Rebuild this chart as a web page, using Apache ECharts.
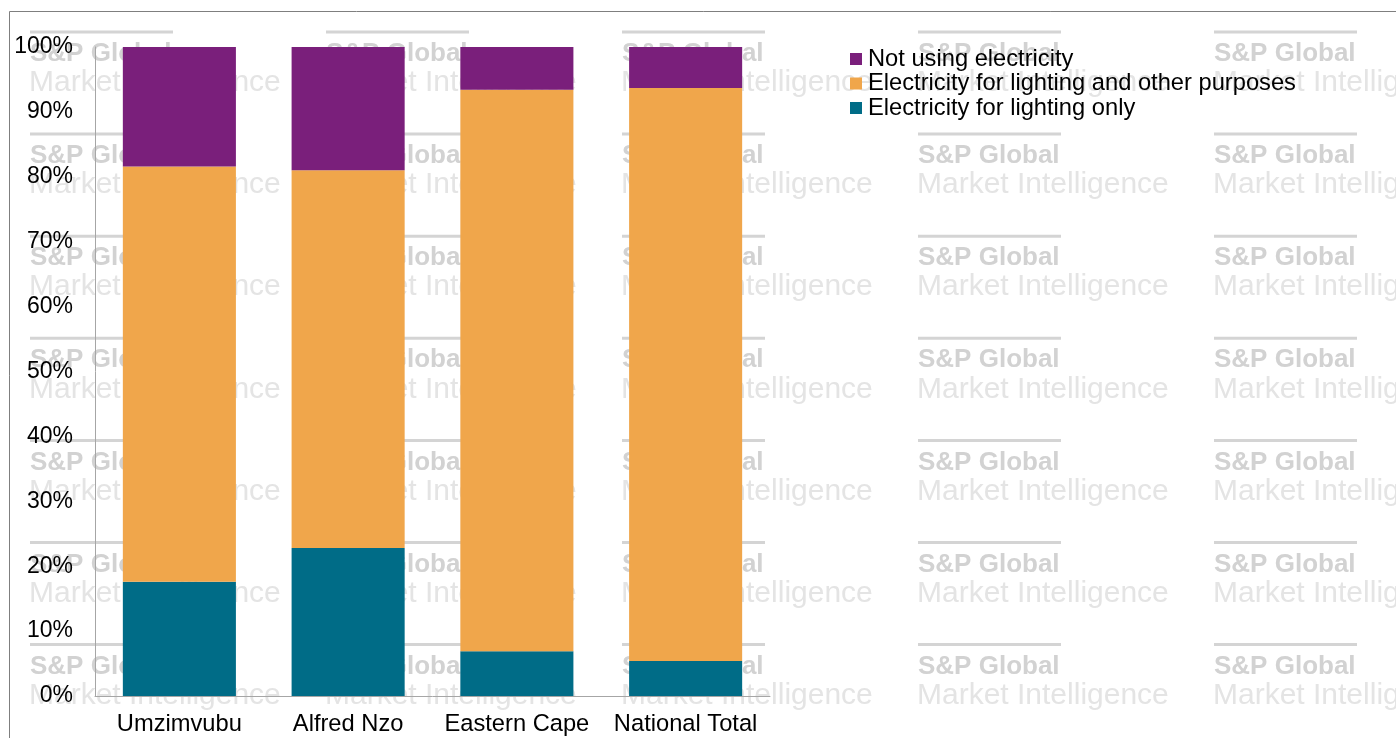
<!DOCTYPE html>
<html>
<head>
<meta charset="utf-8">
<script src="https://cdn.jsdelivr.net/npm/echarts@6/dist/echarts.min.js"></script>
<style>
html,body{margin:0;padding:0;background:#fff;}
#chart{width:1396px;height:738px;}
</style>
</head>
<body>
<div id="chart"></div>
<script>
const categories = ['Umzimvubu', 'Alfred Nzo', 'Eastern Cape', 'National Total'];
const lightingOnly = [17.6, 22.8, 6.9, 5.4];
const lightingAndOther = [64.0, 58.2, 86.5, 88.3];
const notUsing = [18.4, 19.0, 6.6, 6.3];
const seriesNames = ['Electricity for lighting only', 'Electricity for lighting and other purposes', 'Not using electricity'];
const yTicks = [0, 10, 20, 30, 40, 50, 60, 70, 80, 90, 100];

const FONT = '"Liberation Sans", Arial, sans-serif';

// watermark tiles
const wm = [];
for (let i = 0; i < 5; i++) {
  for (let j = 0; j < 7; j++) {
    const x = 30 + 296 * i;
    const y = 32 + 102.1 * j;
    wm.push({ type: 'rect', silent: true, z: 0,
      shape: { x: x, y: y - 1.5, width: 143, height: 3 },
      style: { fill: '#d4d4d4' } });
    wm.push({ type: 'text', silent: true, z: 0, x: x, y: y + 9,
      style: { text: 'S&P Global', font: 'bold 26px ' + FONT, fill: '#d2d2d2', verticalAlign: 'top' } });
    wm.push({ type: 'text', silent: true, z: 0, x: x - 1, y: y + 36,
      style: { text: 'Market Intelligence', font: '30px ' + FONT, fill: '#e4e4e4', verticalAlign: 'top' } });
  }
}
wm.push({ type: 'rect', silent: true, z: 0,
  shape: { x: 9.5, y: 11.5, width: 1500, height: 900 },
  style: { fill: 'none', stroke: '#7f7f7f', lineWidth: 1 } });

const chart = echarts.init(document.getElementById('chart'));
chart.setOption({
  animation: false,
  backgroundColor: '#fff',
  graphic: wm,
  grid: { left: 95, right: 626, top: 47, bottom: 42 },
  legend: {
    orient: 'vertical',
    left: 850, top: 47, padding: 0,
    data: [seriesNames[2], seriesNames[1], seriesNames[0]],
    icon: 'rect', itemWidth: 12, itemHeight: 12, itemGap: 0.5,
    textStyle: { fontFamily: FONT, fontSize: 23.7, color: '#000', lineHeight: 24, padding: [0, 0, 0, 1] }
  },
  xAxis: {
    type: 'category',
    data: categories,
    axisLine: { lineStyle: { color: '#a6a6a6', width: 1 } },
    axisTick: { show: false },
    axisLabel: { fontFamily: FONT, fontSize: 23.7, color: '#000', margin: 16, interval: 0 }
  },
  yAxis: {
    type: 'value', min: yTicks[0], max: yTicks[yTicks.length - 1], interval: 10,
    axisLine: { show: true, lineStyle: { color: '#a6a6a6', width: 1 } },
    axisTick: { show: false },
    splitLine: { show: false },
    axisLabel: { fontFamily: FONT, fontSize: 23, color: '#000', margin: 22, formatter: '{value}%', padding: [7, 0, 0, 0] }
  },
  series: [
    { name: seriesNames[0], type: 'bar', stack: 'a', data: lightingOnly, barWidth: '67%', itemStyle: { color: '#006C87' }, z: 3 },
    { name: seriesNames[1], type: 'bar', stack: 'a', data: lightingAndOther, barWidth: '67%', itemStyle: { color: '#F0A64B' }, z: 3 },
    { name: seriesNames[2], type: 'bar', stack: 'a', data: notUsing, barWidth: '67%', itemStyle: { color: '#7A1F7B' }, z: 3 }
  ]
});
</script>
</body>
</html>
